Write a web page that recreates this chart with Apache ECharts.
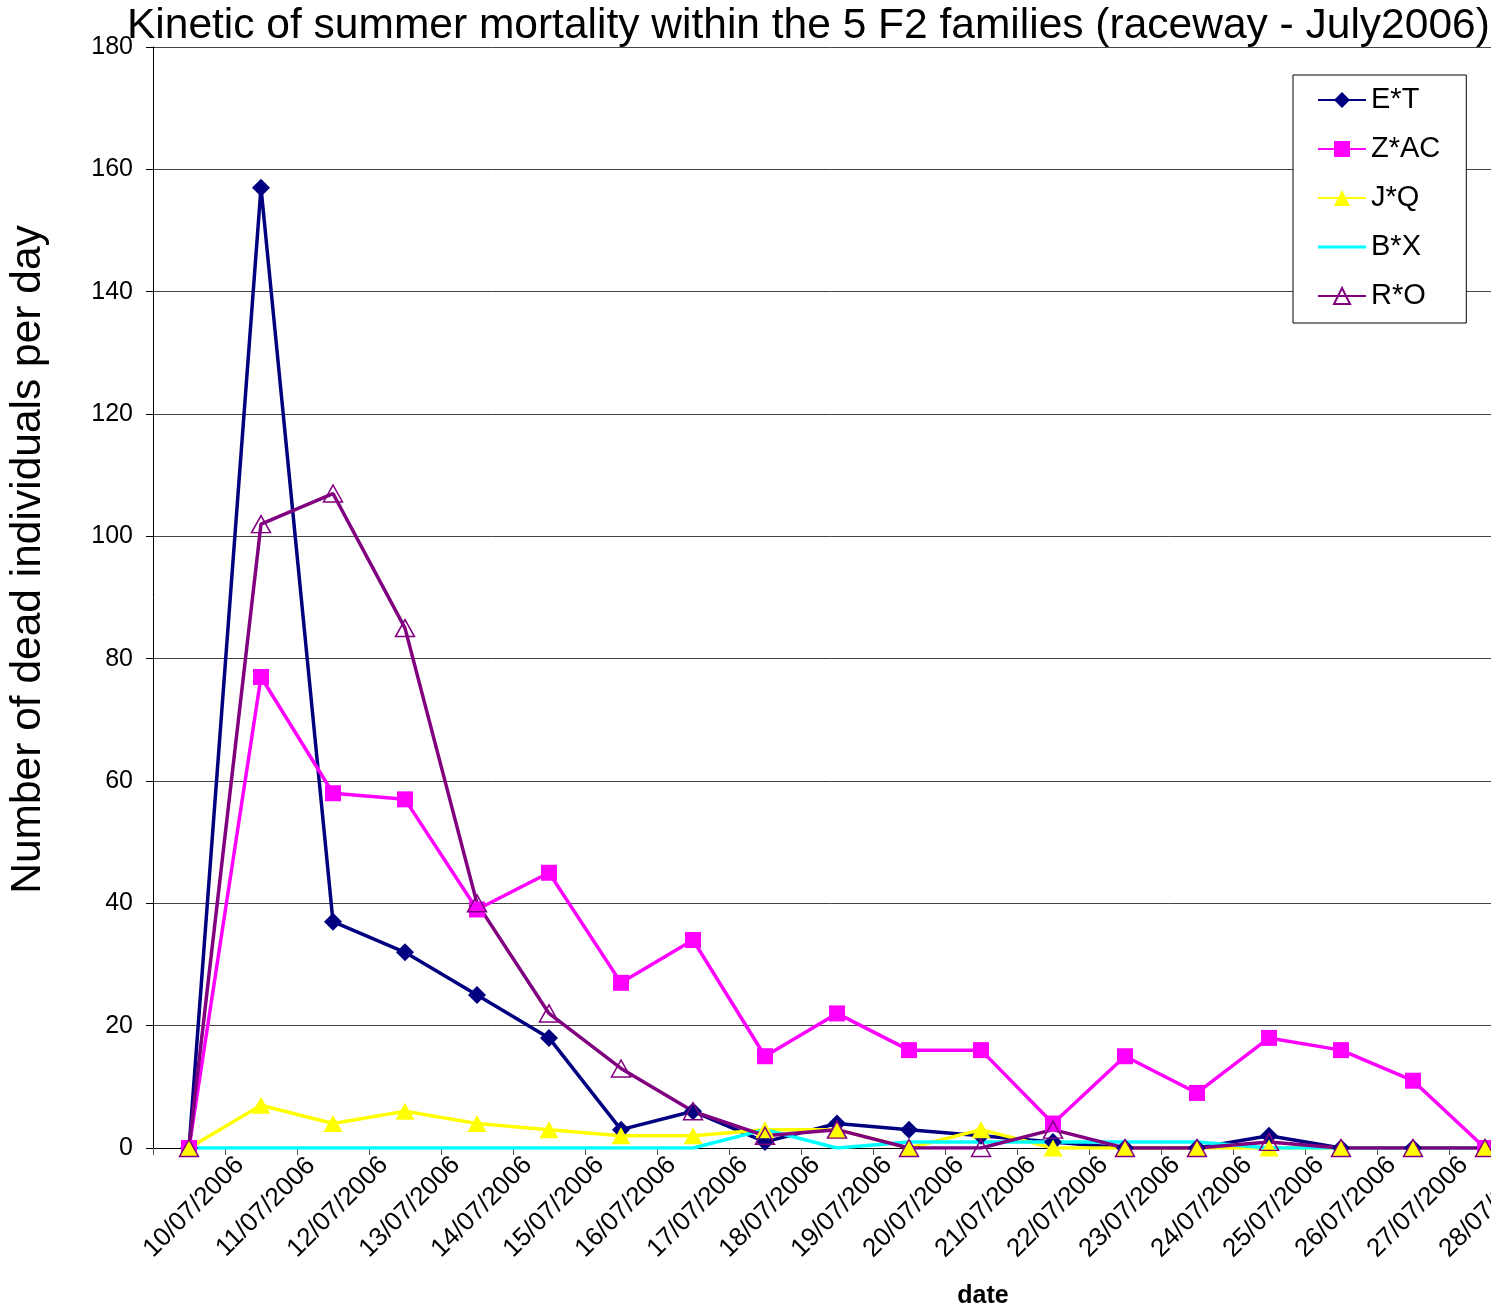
<!DOCTYPE html>
<html><head><meta charset="utf-8">
<script src="https://cdn.jsdelivr.net/npm/echarts@6/dist/echarts.min.js"></script>
<style>html,body{margin:0;padding:0;background:#fff}#c{width:1507px;height:1309px}</style>
</head><body><div id="c"></div>
<script>
const categories = ['10/07/2006','11/07/2006','12/07/2006','13/07/2006','14/07/2006','15/07/2006','16/07/2006','17/07/2006','18/07/2006','19/07/2006','20/07/2006','21/07/2006','22/07/2006','23/07/2006','24/07/2006','25/07/2006','26/07/2006','27/07/2006','28/07/2006'];
const ET  = [0,157,37,32,25,18,3,6,1,4,3,2,1,0,0,2,0,0,0];
const ZAC = [0,77,58,57,39,45,27,34,15,22,16,16,4,15,9,18,16,11,0];
const JQ  = [0,7,4,6,4,3,2,2,3,3,0,3,0,0,0,0,0,0,0];
const BX  = [0,0,0,0,0,0,0,0,3,0,1,1,1,1,1,0,0,0,0];
const RO  = [0,102,107,85,40,22,13,6,2,3,0,0,3,0,0,1,0,0,0];
const yTicks = {min:0, max:180, interval:20};

const FONT = "'Liberation Sans', Arial, sans-serif";
const chart = echarts.init(document.getElementById('c'), null, {renderer:'canvas'});
chart.setOption({
  animation:false,
  backgroundColor:'#fff',
  title:{text:'Kinetic of summer mortality within the 5 F2 families (raceway - July2006)',
    left:122, top:0, textStyle:{fontFamily:FONT, fontSize:42.5, fontWeight:'normal', color:'#000'}},
  legend:{orient:'vertical', left:1293, top:75, padding:[10,26,12,24],
    backgroundColor:'#fff', borderColor:'#000', borderWidth:1,
    itemWidth:48, itemHeight:20, itemGap:19,
    textStyle:{fontFamily:FONT, fontSize:29, color:'#000', lineHeight:30},
    data:['E*T','Z*AC','J*Q',{name:'B*X', icon:'path://M0,0 L48,0 L48,3 L0,3 Z'},'R*O']},
  grid:{left:153, top:47, width:1368, height:1101, containLabel:false, outerBoundsMode:'none'},
  xAxis:{type:'category', data:categories, boundaryGap:true,
    name:'date', nameLocation:'middle', nameGap:136,
    nameTextStyle:{fontFamily:FONT, fontSize:25, fontWeight:'bold', color:'#000', padding:[0,0,0,292]},
    axisLine:{lineStyle:{color:'#000', width:1}},
    axisTick:{show:true, interval:0, length:7, lineStyle:{color:'#555'}},
    axisLabel:{interval:0, rotate:45, align:'center', verticalAlign:'middle', margin:64,
      padding:[14,0,0,14], fontFamily:FONT, fontSize:26, color:'#000'},
    splitLine:{show:false}},
  yAxis:{type:'value', min:yTicks.min, max:yTicks.max, interval:yTicks.interval,
    name:'Number of dead individuals per day', nameLocation:'middle', nameGap:103, nameRotate:90,
    nameTextStyle:{fontFamily:FONT, fontSize:42.5, color:'#000', padding:[0,0,0,76]},
    axisLine:{show:true, lineStyle:{color:'#000', width:1}},
    axisTick:{show:true, length:7, lineStyle:{color:'#000'}},
    axisLabel:{fontFamily:FONT, fontSize:25, color:'#000', margin:20},
    splitLine:{show:true, lineStyle:{color:'#444', width:1}}},
  series:[
    {name:'E*T', type:'line', data:ET, symbol:'diamond', symbolSize:18,
      lineStyle:{color:'#000080', width:3.5}, itemStyle:{color:'#000080'}},
    {name:'Z*AC', type:'line', data:ZAC, symbol:'rect', symbolSize:16,
      lineStyle:{color:'#FF00FF', width:3.5}, itemStyle:{color:'#FF00FF'}},
    {name:'J*Q', type:'line', data:JQ, symbol:'triangle', symbolSize:[19,17],
      lineStyle:{color:'#FFFF00', width:3.5}, itemStyle:{color:'#FFFF00'}},
    {name:'B*X', type:'line', data:BX, symbol:'none',
      lineStyle:{color:'#00FFFF', width:3.5}, itemStyle:{color:'#00FFFF'}},
    {name:'R*O', type:'line', data:RO, symbol:'triangle', symbolSize:[19,17],
      lineStyle:{color:'#800080', width:3.5},
      itemStyle:{color:'rgba(255,255,255,0)', borderColor:'#800080', borderWidth:1.5}}
  ],
  graphic:[{type:'rect', left:1491, top:46, shape:{width:20, height:1270}, style:{fill:'#fff'}, z:100}]
});
</script></body></html>
